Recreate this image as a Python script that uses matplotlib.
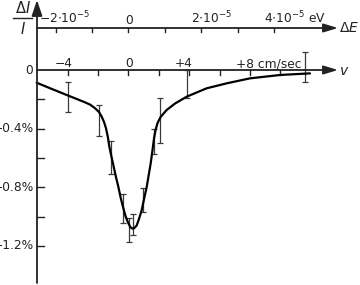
import numpy as np
import matplotlib
matplotlib.use('Agg')
import matplotlib.pyplot as plt

plt.rcParams['font.family'] = ['DejaVu Sans']
plt.rcParams['mathtext.fontset'] = 'dejavusans'
plt.rcParams['mathtext.default'] = 'regular'

# measured points: source velocity (cm/sec) and relative change of intensity (%)
meas_v = [-3.96, -1.94, -1.17, -0.38, 0.03, 0.28, 0.97, 1.68, 2.07, 3.85, 11.61]
meas_dI = [-0.184, -0.345, -0.597, -0.945, -1.09, -1.055, -0.887, -0.488, -0.345, -0.096, 0.02]
meas_err = [0.102, 0.106, 0.113, 0.099, 0.082, 0.072, 0.082, 0.085, 0.154, 0.096, 0.10]

# fitted curve
curve_v = [-6.04, -5.03, -3.96, -2.97, -2.53, -2.20, -1.94, -1.76, -1.61, -1.48,
           -1.36, -1.26, -1.13, -1.00, -0.84, -0.67, -0.51, -0.34, -0.18, -0.01,
           0.12, 0.23, 0.36, 0.54, 0.69, 0.87, 1.03, 1.20, 1.33, 1.46,
           1.58, 1.68, 1.78, 1.91, 2.11, 2.51, 3.06, 3.83, 5.14, 6.46,
           7.99, 9.97, 11.94]
curve_dI = [-0.087, -0.130, -0.175, -0.216, -0.236, -0.261, -0.287, -0.319, -0.355, -0.398,
            -0.457, -0.524, -0.587, -0.648, -0.724, -0.797, -0.874, -0.944, -1.003, -1.046,
            -1.072, -1.082, -1.081, -1.061, -1.017, -0.956, -0.877, -0.797, -0.717, -0.637,
            -0.546, -0.466, -0.410, -0.362, -0.321, -0.273, -0.229, -0.182, -0.125, -0.091,
            -0.057, -0.034, -0.023]

v_ticks = [-4, -2, 0, 2, 4, 6, 8, 10]
v_labels = {-4: '\u22124', 0: '0', 4: '+4', 8: '+8 cm/sec'}
y_ticks = [0, -0.2, -0.4, -0.6, -0.8, -1.0, -1.2]
y_labels = {0: '0', -0.4: '\u22120.4%', -0.8: '\u22120.8%', -1.2: '\u22121.2%'}
dE_ticks = [-2, -1, 0, 1, 2, 3, 4]   # units of 1e-5 eV
dE_labels = {-2: r'$-2{\cdot}10^{-5}$', 0: '0',
             2: r'$2{\cdot}10^{-5}$', 4: r'$4{\cdot}10^{-5}$ eV'}
dE_per_v = 2.4   # cm/sec per 1e-5 eV on this drawing

W, H = 360, 285
X0, SX = 128.5, 15.2      # pixel of v=0, pixels per cm/sec
Y0, SY = 70.0, 146.5      # pixel of 0 %, pixels per %
PXV, PXY = 1 / SX, 1 / SY

fig = plt.figure(figsize=(W / 100, H / 100), dpi=100)
ax = fig.add_axes([0, 0, 1, 1])
ax.set_xlim(-X0 / SX, (W - X0) / SX)
ax.set_ylim(-(H - Y0) / SY, Y0 / SY)
ax.axis('off')

ink = '#222222'
fs = 8.8

v0 = (37 - X0) / SX          # position of the vertical axis
v_end = (338 - X0) / SX
yE = (Y0 - 28) / SY          # height of the energy axis


def arrow(x1, y1, x2, y2, hl, hw):
    ax.annotate('', xy=(x2, y2), xytext=(x1, y1),
                arrowprops=dict(arrowstyle='-|>,head_length=%g,head_width=%g' % (hl, hw),
                                mutation_scale=10, shrinkA=0, shrinkB=0,
                                lw=1.3, color=ink))


arrow(v0, -(283 - Y0) / SY, v0, Y0 / SY, 0.95, 0.32)
arrow(v0, 0, v_end, 0, 0.86, 0.26)
arrow(v0, yE, v_end, yE, 0.86, 0.26)

# ticks
for t in v_ticks:
    ax.plot([t, t], [0, -5 * PXY], color=ink, lw=1.0)
for d in dE_ticks:
    ax.plot([d * dE_per_v] * 2, [yE, yE - 4 * PXY], color=ink, lw=1.0)
for t in y_ticks[1:]:
    ax.plot([v0, v0 + 7 * PXV], [t, t], color=ink, lw=1.0)

# tick labels
for t, s in y_labels.items():
    ax.text(v0 - 3.5 * PXV, t, s, ha='right', va='center', fontsize=fs, color=ink)
v_off = {-4: (4.5, 'right'), 0: (0.5, 'center'), 4: (3, 'right'), 8: (-14, 'left')}
for t, s in v_labels.items():
    dx, ha = v_off[t]
    ax.text(t + dx * PXV, 3 * PXY, s, ha=ha, va='baseline', fontsize=fs, color=ink)
dE_off = {-2: (-17, 'left'), 0: (0.5, 'center'), 2: (-10, 'left'), 4: (-10, 'left')}
for d, s in dE_labels.items():
    dx, ha = dE_off[d]
    ax.text(d * dE_per_v + dx * PXV, yE + 4.5 * PXY, s, ha=ha, va='baseline',
            fontsize=fs, color=ink)

# axis names
ax.text(v_end + 2 * PXV, -4.5 * PXY, 'v', fontstyle='italic', ha='left',
        va='baseline', fontsize=10, color=ink)
ax.text(v_end + 1 * PXV, yE, r'$\Delta\mathit{E}$', ha='left', va='center',
        fontsize=10, color=ink)
xl = (22.5 - X0) / SX
ax.text(xl, (Y0 - 12.5) / SY, r'$\Delta\mathit{I}$', ha='center', va='baseline',
        fontsize=10.5, color=ink)
ax.text(xl, (Y0 - 34) / SY, r'$\mathit{I}$', ha='center', va='baseline',
        fontsize=10.5, color=ink)
ax.plot([(13 - X0) / SX, (32 - X0) / SX], [(Y0 - 18) / SY] * 2, color=ink, lw=1.0)

# data
ax.errorbar(meas_v, meas_dI, yerr=meas_err, fmt='none', ecolor='#3a3a3a',
            elinewidth=0.9, capsize=2, capthick=0.9)
ax.plot(curve_v, curve_dI, color='black', lw=1.6, solid_capstyle='round',
        solid_joinstyle='round')

fig.savefig('out.png', dpi=100)
